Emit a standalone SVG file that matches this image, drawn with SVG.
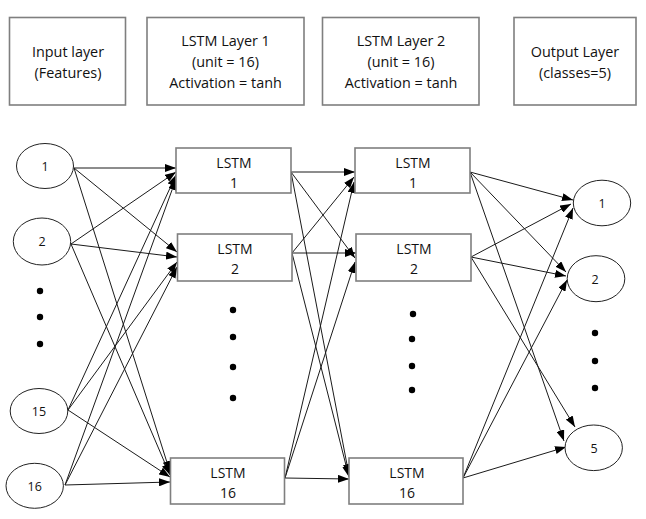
<svg xmlns="http://www.w3.org/2000/svg" width="646" height="519" viewBox="0 0 646 519">
<style>
.hdr{fill:#fff;stroke:#7f7f7f;stroke-width:1.6}
.box{fill:#fff;stroke:#7f7f7f;stroke-width:1.6}
.circ{fill:#fff;stroke:#222;stroke-width:1}
.ht{font-family:"Open Sans","Liberation Sans",sans-serif;font-size:14.4px;fill:#111;text-anchor:middle}
.nt{font-family:"Open Sans","Liberation Sans",sans-serif;font-size:14px;fill:#111;text-anchor:middle}
.ct{font-family:"Open Sans","Liberation Sans",sans-serif;font-size:12.5px;fill:#111;text-anchor:middle}
.ln{stroke:#1a1a1a;stroke-width:1;fill:none;marker-end:url(#ah)}
.dot{fill:#000}
</style>
<defs>
<marker id="ah" markerUnits="userSpaceOnUse" markerWidth="11" markerHeight="8" refX="11" refY="4" orient="auto">
<path d="M0,0 L11,4 L0,8 z" fill="#000"/>
</marker>
</defs>
<rect width="646" height="519" fill="#fff"/>

<g id="header-input"><rect class="hdr" x="9.5" y="17.5" width="116" height="87.5"/><text class="ht" x="68" y="57">Input layer</text><text class="ht" x="68" y="77.5">(Features)</text></g>
<g id="header-lstm1"><rect class="hdr" x="147" y="17.5" width="157" height="87.5"/><text class="ht" x="225.5" y="46">LSTM Layer 1</text><text class="ht" x="225.5" y="66.5">(unit = 16)</text><text class="ht" x="225.5" y="87.5">Activation = tanh</text></g>
<g id="header-lstm2"><rect class="hdr" x="322.5" y="17.5" width="156.5" height="87.5"/><text class="ht" x="401" y="46">LSTM Layer 2</text><text class="ht" x="401" y="66.5">(unit = 16)</text><text class="ht" x="401" y="87.5">Activation = tanh</text></g>
<g id="header-output"><rect class="hdr" x="514" y="17.5" width="122" height="87.5"/><text class="ht" x="575" y="57">Output Layer</text><text class="ht" x="575" y="77.5">(classes=5)</text></g>

<g id="connectors">
<line class="ln" x1="74" y1="168" x2="176" y2="168"/>
<line class="ln" x1="71" y1="244" x2="176" y2="172"/>
<line class="ln" x1="68" y1="410" x2="176" y2="175"/>
<line class="ln" x1="65" y1="485" x2="176" y2="179"/>
<line class="ln" x1="74" y1="168" x2="177" y2="252"/>
<line class="ln" x1="71" y1="244" x2="177" y2="257"/>
<line class="ln" x1="68" y1="410" x2="177" y2="262"/>
<line class="ln" x1="65" y1="485" x2="177" y2="267"/>
<line class="ln" x1="74" y1="168" x2="170" y2="472"/>
<line class="ln" x1="71" y1="244" x2="170" y2="475"/>
<line class="ln" x1="68" y1="410" x2="170" y2="477"/>
<line class="ln" x1="65" y1="485" x2="170" y2="482"/>

<line class="ln" x1="291" y1="172" x2="355" y2="172"/>
<line class="ln" x1="292" y1="253" x2="354" y2="177"/>
<line class="ln" x1="285" y1="478" x2="354" y2="182"/>
<line class="ln" x1="291" y1="172" x2="355" y2="258"/>
<line class="ln" x1="292" y1="253" x2="356" y2="253"/>
<line class="ln" x1="285" y1="478" x2="355" y2="262"/>
<line class="ln" x1="291" y1="172" x2="349" y2="475"/>
<line class="ln" x1="292" y1="253" x2="349" y2="477"/>
<line class="ln" x1="285" y1="478" x2="349" y2="479"/>

<line class="ln" x1="470" y1="172" x2="573" y2="200"/>
<line class="ln" x1="471" y1="257" x2="571" y2="204"/>
<line class="ln" x1="463" y1="478" x2="573" y2="208"/>
<line class="ln" x1="470" y1="172" x2="566" y2="272"/>
<line class="ln" x1="471" y1="257" x2="566" y2="276"/>
<line class="ln" x1="463" y1="478" x2="567" y2="280"/>
<line class="ln" x1="470" y1="172" x2="564" y2="441"/>
<line class="ln" x1="471" y1="257" x2="575" y2="427"/>
<line class="ln" x1="463" y1="478" x2="566" y2="447"/>
</g>

<g id="in-1"><ellipse class="circ" cx="45" cy="166" rx="28.5" ry="22.5"/><text class="ct" x="45" y="170.5">1</text></g>
<g id="in-2"><ellipse class="circ" cx="42" cy="241.5" rx="28.7" ry="23.5"/><text class="ct" x="42" y="246">2</text></g>
<g id="in-15"><ellipse class="circ" cx="39" cy="411" rx="28.8" ry="22.5"/><text class="ct" x="39" y="415.5">15</text></g>
<g id="in-16"><ellipse class="circ" cx="34.7" cy="485.8" rx="28.7" ry="22.5"/><text class="ct" x="34.7" y="490.5">16</text></g>
<g id="in-dots"><circle class="dot" cx="40" cy="291" r="3.2"/><circle class="dot" cx="40" cy="317" r="3.2"/><circle class="dot" cx="40" cy="344" r="3.2"/></g>

<g id="l1-1"><rect class="box" x="176" y="148" width="115" height="45"/><text class="nt" x="234" y="168">LSTM</text><text class="nt" x="234" y="187.5">1</text></g>
<g id="l1-2"><rect class="box" x="177.5" y="234" width="114.5" height="47"/><text class="nt" x="235" y="254">LSTM</text><text class="nt" x="235" y="274">2</text></g>
<g id="l1-16"><rect class="box" x="170.5" y="458" width="114" height="46"/><text class="nt" x="228" y="478">LSTM</text><text class="nt" x="228" y="497.5">16</text></g>
<g id="l1-dots"><circle class="dot" cx="233" cy="310" r="3.2"/><circle class="dot" cx="233" cy="337" r="3.2"/><circle class="dot" cx="233" cy="367" r="3.2"/><circle class="dot" cx="233" cy="398" r="3.2"/></g>

<g id="l2-1"><rect class="box" x="355" y="148" width="115" height="45"/><text class="nt" x="413" y="168">LSTM</text><text class="nt" x="413" y="187.5">1</text></g>
<g id="l2-2"><rect class="box" x="356" y="234" width="115" height="47"/><text class="nt" x="414" y="254">LSTM</text><text class="nt" x="414" y="274">2</text></g>
<g id="l2-16"><rect class="box" x="349" y="458" width="114" height="46"/><text class="nt" x="407" y="478">LSTM</text><text class="nt" x="407" y="497.5">16</text></g>
<g id="l2-dots"><circle class="dot" cx="413" cy="314" r="3.2"/><circle class="dot" cx="412" cy="339" r="3.2"/><circle class="dot" cx="412" cy="366" r="3.2"/><circle class="dot" cx="412" cy="390" r="3.2"/></g>

<g id="out-1"><ellipse class="circ" cx="602" cy="203" rx="28.7" ry="22.8"/><text class="ct" x="602" y="207.5">1</text></g>
<g id="out-2"><ellipse class="circ" cx="596" cy="278.7" rx="28.8" ry="23"/><text class="ct" x="595" y="283.5">2</text></g>
<g id="out-5"><ellipse class="circ" cx="593.7" cy="447.8" rx="28.7" ry="22.8"/><text class="ct" x="594" y="452.5">5</text></g>
<g id="out-dots"><circle class="dot" cx="595" cy="333" r="3.2"/><circle class="dot" cx="595" cy="361" r="3.2"/><circle class="dot" cx="595" cy="388" r="3.2"/></g>
</svg>
